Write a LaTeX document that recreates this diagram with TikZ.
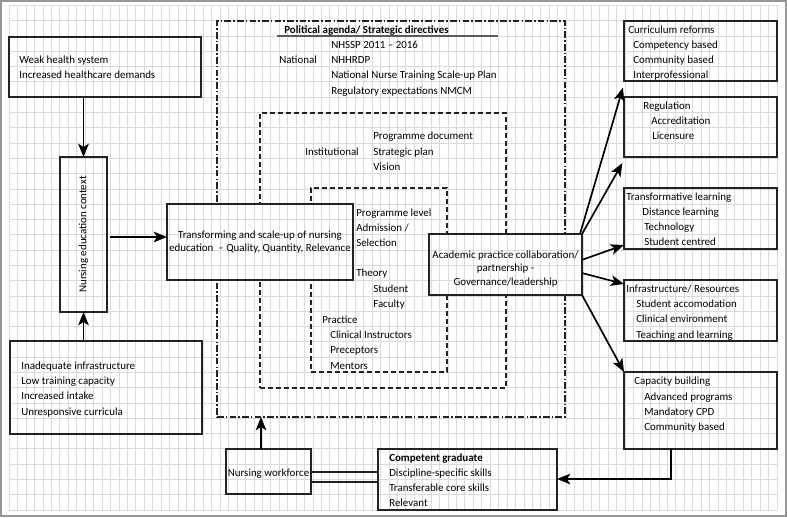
\documentclass[tikz,border=0pt]{standalone}
\usepackage{fontspec}
\setmainfont{Carlito}
\usetikzlibrary{arrows.meta,fit}
\definecolor{gridc}{RGB}{218,218,218}
\definecolor{framec}{RGB}{150,150,150}
\definecolor{linec}{RGB}{35,35,35}
\newcommand\mygrid{%
  \foreach \k in {0,...,91} \draw[gridc, line width=0.7pt] ({9.3+\k*8.4375},5.5) -- ({9.3+\k*8.4375},510.2);
  \foreach \k in {0,...,33} \draw[gridc, line width=0.7pt] (9.3,{5.5+\k*15.29}) -- (777.1,{5.5+\k*15.29});
}
\begin{document}
\begin{tikzpicture}[x=0.75pt,y=-0.75pt,
  font=\fontsize{8.2}{9.8}\selectfont,
  holder/.style={inner sep=0pt, outer sep=0pt},
  edge/.style={draw=linec, line width=1.15pt},
  tx/.style={anchor=base west, inner sep=0pt, yshift=-2.8pt},
  ctext/.style={anchor=base, inner sep=0pt, yshift=-2.8pt},
  arr/.style={draw=black, line width=1.25pt, -{Stealth[length=10pt,width=8pt,inset=2.5pt]}},
  dashdot/.style={draw=linec, line width=1pt, dash pattern=on 5pt off 1.6pt on 1.2pt off 1.6pt},
  dashbox/.style={draw=linec, line width=1pt, dash pattern=on 4pt off 2pt},
]
\useasboundingbox (0,0) rectangle (787,517);
\fill[white] (0,0) rectangle (787,517);
\mygrid
\draw[framec, line width=1.2pt] (0.8,0.8) rectangle (786.2,516.2);

% nested policy boxes
\node[holder, fit={(217,21) (565,417)}, dashdot] (pol) {};
\node[holder, fit={(260,113) (506,388)}, dashbox] (inst) {};
\node[holder, fit={(311,188) (447,372)}, dashbox] (prog) {};

% box holders
\node[holder, fit={(9,37) (201,97)}] (weak) {};
\node[holder, fit={(60,157) (107,312)}] (ctx) {};
\node[holder, fit={(10,341) (202,434)}] (inad) {};
\node[holder, fit={(167,204) (353,280)}, fill=white] (trans) {};
\node[holder, fit={(429,234) (582,295)}, fill=white] (acad) {};
\node[holder, fit={(624,21) (777,81)}] (curr) {};
\node[holder, fit={(624,97) (777,157)}] (reg) {};
\node[holder, fit={(624,188) (777,249)}] (trl) {};
\node[holder, fit={(624,280) (777,341)}] (infra) {};
\node[holder, fit={(624,372) (777,449)}] (cap) {};
\node[holder, fit={(378,449) (557,510)}] (grad) {};
\node[holder, fit={(226,449) (311,494)}] (wf) {};

\begin{scope}
  \clip (trans.north west) rectangle (trans.south east);
  \mygrid
\end{scope}
\begin{scope}
  \clip (acad.north west) rectangle (acad.south east);
  \mygrid
\end{scope}

\foreach \b in {weak,ctx,inad,trans,acad,curr,reg,trl,infra,cap,grad,wf}
  \draw[edge] (\b.north west) rectangle (\b.south east);

% texts
\node[tx] (t1) at (19,60) {Weak health system};
\node[tx] (t2) at (19,75) {Increased healthcare demands};
\node[rotate=90, inner sep=0pt] (t3) at (ctx.center) {Nursing education context};
\node[tx] (t4) at (21,366) {Inadequate infrastructure};
\node[tx] (t5) at (21,381) {Low training capacity};
\node[tx] (t6) at (21,396) {Increased intake};
\node[tx] (t7) at (21,412) {Unresponsive curricula};

\node[ctext] (t8) at (trans.center |- 0,235) {Transforming and scale-up of nursing};
\node[ctext] (t9) at (trans.center |- 0,248) {education\ \ – Quality, Quantity, Relevance};

\node[tx, font=\fontsize{8.2}{9.8}\selectfont\bfseries] (h1) at (284,30) {Political agenda/ Strategic directives};
\draw[black!65, line width=1.3pt] (277,36) -- (498,36);
\node[tx] (n0) at (279,60) {National};
\node[tx] (n1) at (331,45) {NHSSP 2011 – 2016};
\node[tx] (n2) at (331,60) {NHHRDP};
\node[tx] (n3) at (331,75) {National Nurse Training Scale-up Plan};
\node[tx] (n4) at (331,91) {Regulatory expectations NMCM};

\node[tx] (i0) at (305,152) {Institutional};
\node[tx] (i1) at (373,136) {Programme document};
\node[tx] (i2) at (373,152) {Strategic plan};
\node[tx] (i3) at (373,167) {Vision};

\node[tx] (p1) at (356,213) {Programme level};
\node[tx] (p2) at (356,228) {Admission /};
\node[tx] (p3) at (356,243) {Selection};
\node[tx] (p4) at (356,273) {Theory};
\node[tx] (p5) at (373,289) {Student};
\node[tx] (p6) at (373,304) {Faculty};
\node[tx] (p7) at (322,320) {Practice};
\node[tx] (p8) at (330,335) {Clinical Instructors};
\node[tx] (p9) at (330,350) {Preceptors};
\node[tx] (p10) at (330,366) {Mentors};

\node[ctext] (a1) at (acad.center |- 0,255) {Academic practice collaboration/};
\node[ctext] (a2) at (acad.center |- 0,268) {partnership -};
\node[ctext] (a3) at (acad.center |- 0,282) {Governance/leadership};

\node[tx] (c1) at (628,30) {Curriculum reforms};
\node[tx] (c2) at (633,45) {Competency based};
\node[tx] (c3) at (633,60) {Community based};
\node[tx] (c4) at (633,75) {Interprofessional};

\node[tx] (r1) at (643,106) {Regulation};
\node[tx] (r2) at (651,121) {Accreditation};
\node[tx] (r3) at (652,136) {Licensure};

\node[tx] (l1) at (626,197) {Transformative learning};
\node[tx] (l2) at (642,212) {Distance learning};
\node[tx] (l3) at (644,227) {Technology};
\node[tx] (l4) at (644,242) {Student centred};

\node[tx] (f1) at (626,289) {Infrastructure/ Resources};
\node[tx] (f2) at (636,304) {Student accomodation};
\node[tx] (f3) at (636,319) {Clinical environment};
\node[tx] (f4) at (636,335) {Teaching and learning};

\node[tx] (k1) at (634,381) {Capacity building};
\node[tx] (k2) at (644,397) {Advanced programs};
\node[tx] (k3) at (644,412) {Mandatory CPD};
\node[tx] (k4) at (644,427) {Community based};

\node[tx, font=\fontsize{8.2}{9.8}\selectfont\bfseries] (g1) at (389,458) {Competent graduate};
\node[tx] (g2) at (389,473) {Discipline-specific skills};
\node[tx] (g3) at (389,488) {Transferable core skills};
\node[tx] (g4) at (389,503) {Relevant};

\node[ctext] (w1) at (wf.center |- 0,473) {Nursing workforce};

% connectors
\draw[arr] (weak.south -| ctx.north) -- (ctx.north);
\draw[arr] (inad.north -| ctx.south) -- (ctx.south);
\coordinate (cto) at (110,237);
\draw[arr] (cto) -- (cto -| trans.west);

\draw[arr] ([xshift=-1.5pt]acad.north east) -- ([xshift=-0.8pt,yshift=-5pt]curr.south west);
\draw[arr] (acad.north east) -- ([xshift=-1.2pt,yshift=-4.5pt]reg.south west);
\draw[arr] ([yshift=3.5pt]acad.east) -- ([yshift=3pt]trl.south west);
\draw[arr] ([yshift=-6.4pt]acad.east) -- ([yshift=-3pt]infra.north west);
\draw[arr] (acad.south east) -- (cap.north west);

\coordinate (capout) at (671,449);
\coordinate (gradin) at (557,479);
\draw[arr] (capout) |- (gradin);

\coordinate (wfup) at (261,449);
\draw[arr] (wfup) -- (wfup |- pol.south);

\coordinate (d1) at (311,472);
\coordinate (d2) at (311,482);
\draw[edge] (d1) -- (d1 -| grad.west);
\draw[edge] (d2) -- (d2 -| grad.west);
\end{tikzpicture}
\end{document}
